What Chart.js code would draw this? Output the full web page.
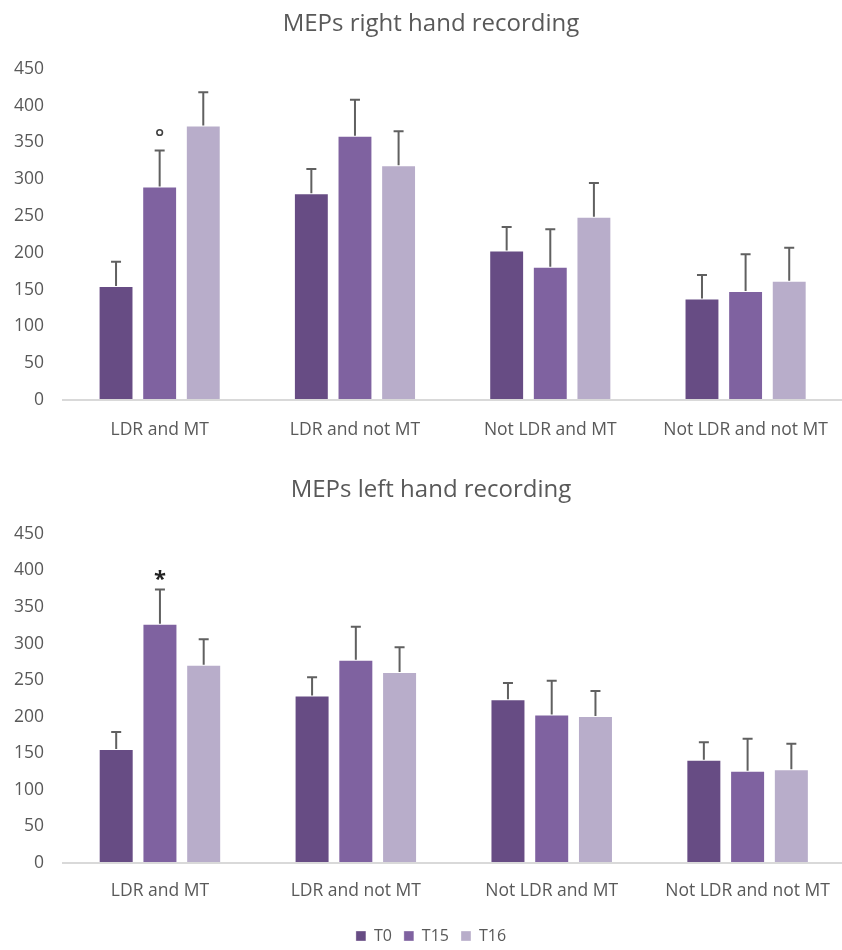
<!DOCTYPE html>
<html>
<head>
<meta charset="utf-8">
<script src="https://cdn.jsdelivr.net/npm/chart.js@4.4.1/dist/chart.umd.min.js"></script>
<style>
  html, body { margin: 0; padding: 0; background: #ffffff; overflow: hidden; }
  #wrap { width: 848px; }
  .box { position: relative; width: 848px; }
  #topBox { height: 460px; }
  #bottomBox { height: 500px; }
</style>
</head>
<body>
<div id="wrap">
  <div class="box" id="topBox"><canvas id="rightHand"></canvas></div>
  <div class="box" id="bottomBox"><canvas id="leftHand"></canvas></div>
</div>
<script>
// Groups and time points
const categories = ['LDR and MT', 'LDR and not MT', 'Not LDR and MT', 'Not LDR and not MT'];
const seriesNames = ['T0', 'T15', 'T16'];
const yTicks = [0, 50, 100, 150, 200, 250, 300, 350, 400, 450];

// MEPs, right hand recording (mean and upper error)
const rightT0 = [155, 281, 203, 138];
const rightT15 = [290, 359, 181, 148];
const rightT16 = [373, 319, 249, 162];
const rightErrT0 = [33, 33, 32, 32];
const rightErrT15 = [49, 49, 51, 50];
const rightErrT16 = [45, 46, 46, 45];
const rightMarks = ['', '°', ''];   // significance mark over group 1, per series

// MEPs, left hand recording (mean and upper error)
const leftT0 = [156, 229, 224, 141];
const leftT15 = [327, 278, 203, 126];
const leftT16 = [271, 261, 201, 128];
const leftErrT0 = [23, 25, 22, 24];
const leftErrT15 = [47, 45, 46, 44];
const leftErrT16 = [35, 34, 34, 35];
const leftMarks = ['', '*', ''];

const colors = ['#674c84', '#7f62a0', '#b8adca'];
const textGray = '#595959';
const FONT = "'Open Sans', 'Noto Sans', sans-serif";

// Upper error bars with caps, plus a significance mark over the first group
const errorBarPlugin = {
  id: 'errorBars',
  afterDatasetsDraw(chart) {
    const ctx = chart.ctx;
    const yScale = chart.scales.y;
    chart.data.datasets.forEach((ds, di) => {
      const meta = chart.getDatasetMeta(di);
      if (meta.hidden) return;
      meta.data.forEach((bar, i) => {
        const top = yScale.getPixelForValue(ds.data[i] + ds.errors[i]);
        const base = yScale.getPixelForValue(ds.data[i]);
        ctx.save();
        ctx.strokeStyle = '#606060';
        ctx.lineWidth = 2;
        ctx.beginPath();
        ctx.moveTo(bar.x, base);
        ctx.lineTo(bar.x, top);
        ctx.moveTo(bar.x - 5, top);
        ctx.lineTo(bar.x + 5, top);
        ctx.stroke();
        ctx.restore();
        const mark = i === 0 ? ds.mark : '';
        if (mark === '°') {
          ctx.save();
          ctx.strokeStyle = '#404040';
          ctx.lineWidth = 1.6;
          ctx.beginPath();
          ctx.arc(bar.x, top - 18, 2.8, 0, Math.PI * 2);
          ctx.stroke();
          ctx.restore();
        } else if (mark === '*') {
          ctx.save();
          ctx.fillStyle = '#222222';
          ctx.font = 'bold 22px ' + FONT;
          ctx.textAlign = 'center';
          ctx.textBaseline = 'middle';
          ctx.fillText('*', bar.x, top - 10);
          ctx.restore();
        }
      });
    });
  }
};

function makeDatasets(values, errors, marks) {
  return seriesNames.map((name, k) => ({
    label: name,
    data: values[k],
    errors: errors[k],
    mark: marks[k],
    backgroundColor: colors[k],
    borderColor: 'rgba(255,255,255,0.35)',
    borderWidth: 1,
    categoryPercentage: 0.67,
    barPercentage: 0.8
  }));
}

function makeChart(id, title, values, errors, marks, opts) {
  return new Chart(document.getElementById(id), {
    type: 'bar',
    data: { labels: categories, datasets: makeDatasets(values, errors, marks) },
    plugins: [errorBarPlugin],
    options: {
      responsive: true,
      maintainAspectRatio: false,
      animation: false,
      layout: { padding: { left: 14, right: 0, top: 0, bottom: opts.bottomPad } },
      plugins: {
        title: {
          display: true,
          text: title,
          color: textGray,
          font: { family: FONT, size: 24, weight: 'normal' },
          padding: { top: opts.titleTop, bottom: opts.titleBottom }
        },
        legend: opts.legend,
        tooltip: { enabled: false }
      },
      scales: {
        x: {
          grid: { display: false, drawTicks: false },
          border: { display: false },
          ticks: { color: textGray, font: { family: FONT, size: 17.5 }, padding: opts.xPad, maxRotation: 0 },
          afterFit(scale) { scale.height = opts.xHeight; }
        },
        y: {
          min: 0,
          max: 450,
          afterBuildTicks(scale) { scale.ticks = yTicks.map(v => ({ value: v })); },
          grid: {
            drawTicks: false,
            lineWidth: 2,
            color: c => (c.tick && c.tick.value === 0 ? '#d9d9d9' : 'rgba(0,0,0,0)')
          },
          border: { display: false },
          ticks: { color: textGray, font: { family: FONT, size: 17.5 }, padding: 18 },
          afterFit(scale) { scale.width = 48; }
        }
      }
    }
  });
}

makeChart('rightHand', 'MEPs right hand recording',
  [rightT0, rightT15, rightT16], [rightErrT0, rightErrT15, rightErrT16], rightMarks,
  { titleTop: 10, titleBottom: 30, xPad: 20, xHeight: 60, bottomPad: 0, legend: { display: false } });

makeChart('leftHand', 'MEPs left hand recording',
  [leftT0, leftT15, leftT16], [leftErrT0, leftErrT15, leftErrT16], leftMarks,
  { titleTop: 16, titleBottom: 29, xPad: 18, xHeight: 53, bottomPad: 6,
    legend: {
      display: true,
      position: 'bottom',
      labels: {
        color: textGray,
        font: { family: FONT, size: 16 },
        boxWidth: 10,
        boxHeight: 10,
        padding: 12
      }
    } });
</script>
</body>
</html>
